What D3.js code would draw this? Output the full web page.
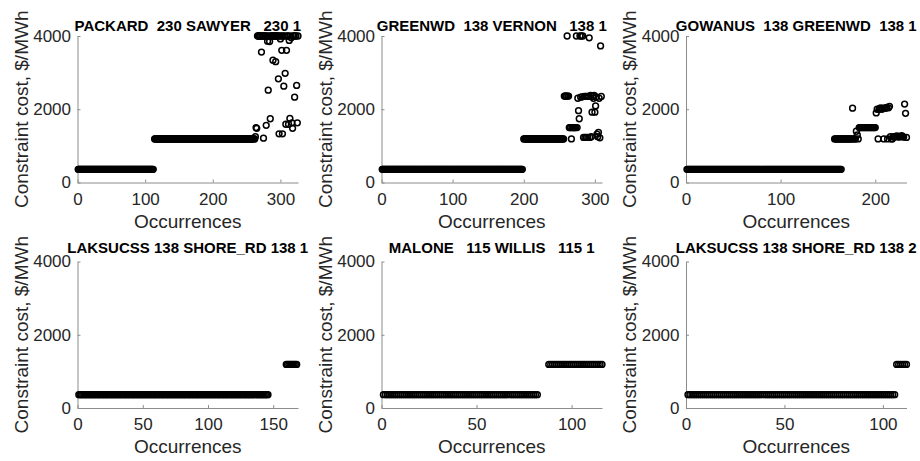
<!DOCTYPE html>
<html>
<head>
<meta charset="utf-8">
<script src="https://cdn.jsdelivr.net/npm/d3@7"></script>
<style>
  body { margin: 0; background: #fff; }
  text { font-family: "Liberation Sans", Arial, Helvetica, sans-serif; }
</style>
</head>
<body>
<div id="chart-container"></div>
<script>
const width = 920;
const height = 461;
const plotWidth = 220.5;
const plotHeight = 146.5;
const colLeft = [77.5, 381.5, 686];
const rowTop = [36, 261.5];
const titleGap = [5.5, 8.5];

const titles = [
  "PACKARD  230 SAWYER   230 1",
  "GREENWD  138 VERNON   138 1",
  "GOWANUS  138 GREENWD  138 1",
  "LAKSUCSS 138 SHORE_RD 138 1",
  "MALONE   115 WILLIS   115 1",
  "LAKSUCSS 138 SHORE_RD 138 2",
];
const xMaxes = [326, 310, 233, 169, 116, 112];
const xTickValues = [
  [0, 100, 200, 300],
  [0, 100, 200, 300],
  [0, 100, 200],
  [0, 50, 100, 150],
  [0, 50, 100],
  [0, 50, 100],
];
const yTickValues = [0, 2000, 4000];

// runs of identical cost: [cost, first occurrence, last occurrence]
const packardBands = [[360, 1, 112], [1190, 114, 262]];
const greenwdBands = [[360, 1, 198], [1190, 200, 256]];
const gowanusBands = [[360, 1, 164], [1190, 157, 175]];
const laksucss1Bands = [[365, 1, 146], [1190, 160, 168]];
const maloneBands = [[365, 1, 82], [1190, 88, 116]];
const laksucss2Bands = [[365, 1, 106], [1190, 107, 112]];

// costs of the occurrences that follow the last run
const packardTail = [
  1250, 1500, 1480, 4000, 4000, 4000, 4000, 4000, 4000, 3560,
  4000, 4000, 1210, 4000, 4000, 4000, 1560, 4000, 3860, 2520,
  4000, 3850, 1740, 4000, 4000, 4000, 3340, 4000, 4000, 4000,
  3300, 4000, 4000, 4000, 2830, 1330, 4000, 3920, 4000, 3610,
  1330, 4000, 2630, 4000, 2980, 1590, 3610, 4000, 4000, 1590,
  3880, 1750, 4000, 3950, 1630, 1480, 4000, 4000, 2330, 4000,
  4000, 2650, 1630, 4000,
];
const greenwdTail = [
  2360, 2360, 2360, 2360, 4000, 2360, 2360, 1500, 1500, 1500,
  1190, 1500, 1500, 1500, 1500, 1500, 1500, 4000, 1500, 2300,
  1960, 1740, 4000, 2330, 4000, 2340, 4000, 1230, 2350, 1230,
  2350, 1230, 2350, 1230, 2350, 3950, 1230, 2380, 1250, 1920,
  2350, 2300, 2380, 1920, 2090, 2340, 1320, 1250, 1370, 2300,
  1220, 3730, 2350,
];
const gowanusTail = [
  2030, 1190, 1190, 1190, 1400, 1300, 1190, 1500, 1500, 1500,
  1500, 1500, 1500, 1500, 1500, 1500, 1500, 1500, 1500, 1500,
  1500, 1500, 1500, 1500, 1500, 1900, 2000, 1190, 2000, 2030,
  2030, 2000, 2030, 1190, 2030, 2030, 2050, 1190, 2040, 2080,
  1250, 1190, 1190, 1250, 1240, 1260, 1250, 1270, 1250, 1240,
  1260, 1250, 1280, 1250, 1240, 2140, 1890, 1230,
];

const panelBands = [packardBands, greenwdBands, gowanusBands, laksucss1Bands, maloneBands, laksucss2Bands];
const panelTails = [packardTail, greenwdTail, gowanusTail, [], [], []];

const svg = d3
  .select("#chart-container")
  .append("svg")
  .attr("width", width)
  .attr("height", height);

titles.forEach((title, k) => {
  const row = Math.floor(k / 3);
  const left = colLeft[k % 3];
  const top = rowTop[row];

  // expand the runs and the tail into points
  const points = [];
  let last = 0;
  panelBands[k].forEach(([cost, first, end]) => {
    for (let occ = first; occ <= end; occ++) points.push({ occ, cost });
    last = Math.max(last, end);
  });
  panelTails[k].forEach((cost, i) => points.push({ occ: last + 1 + i, cost }));

  const x = d3.scaleLinear().domain([0, xMaxes[k]]).range([0, plotWidth]);
  const y = d3.scaleLinear().domain([0, 4000]).range([plotHeight, 0]);

  const g = svg.append("g").attr("transform", "translate(" + left + "," + top + ")");

  const xAxis = g
    .append("g")
    .attr("transform", "translate(0," + plotHeight + ")")
    .call(
      d3
        .axisBottom(x)
        .tickValues(xTickValues[k])
        .tickFormat(d3.format("d"))
        .tickSizeInner(-3)
        .tickSizeOuter(0)
        .tickPadding(10)
    );

  const yAxis = g
    .append("g")
    .call(
      d3
        .axisLeft(y)
        .tickValues(yTickValues)
        .tickFormat(d3.format("d"))
        .tickSizeInner(-3)
        .tickSizeOuter(0)
        .tickPadding(6.5)
    );

  [xAxis, yAxis].forEach((axis) => {
    axis.attr("font-size", 17).attr("font-family", null);
    axis.select(".domain").attr("stroke", "#8c8c8c");
    axis.selectAll(".tick line").attr("stroke", "#8c8c8c");
    axis.selectAll(".tick text").attr("fill", "#262626");
  });

  g.append("g")
    .selectAll("circle")
    .data(points)
    .join("circle")
    .attr("cx", (d) => x(d.occ))
    .attr("cy", (d) => y(d.cost))
    .attr("r", 2.9)
    .attr("fill", "none")
    .attr("stroke", "#000")
    .attr("stroke-width", 1.5);

  g.append("text")
    .attr("x", plotWidth / 2)
    .attr("y", -titleGap[row])
    .attr("text-anchor", "middle")
    .style("white-space", "pre")
    .attr("font-size", 15)
    .attr("font-weight", "bold")
    .attr("fill", "#000")
    .text(title);

  g.append("text")
    .attr("x", plotWidth / 2)
    .attr("y", plotHeight + 45)
    .attr("text-anchor", "middle")
    .attr("font-size", 19)
    .attr("fill", "#262626")
    .text("Occurrences");

  g.append("text")
    .attr("transform", "translate(-50," + plotHeight / 2 + ") rotate(-90)")
    .attr("text-anchor", "middle")
    .attr("font-size", 19)
    .attr("fill", "#262626")
    .text("Constraint cost, $/MWh");
});
</script>
</body>
</html>
